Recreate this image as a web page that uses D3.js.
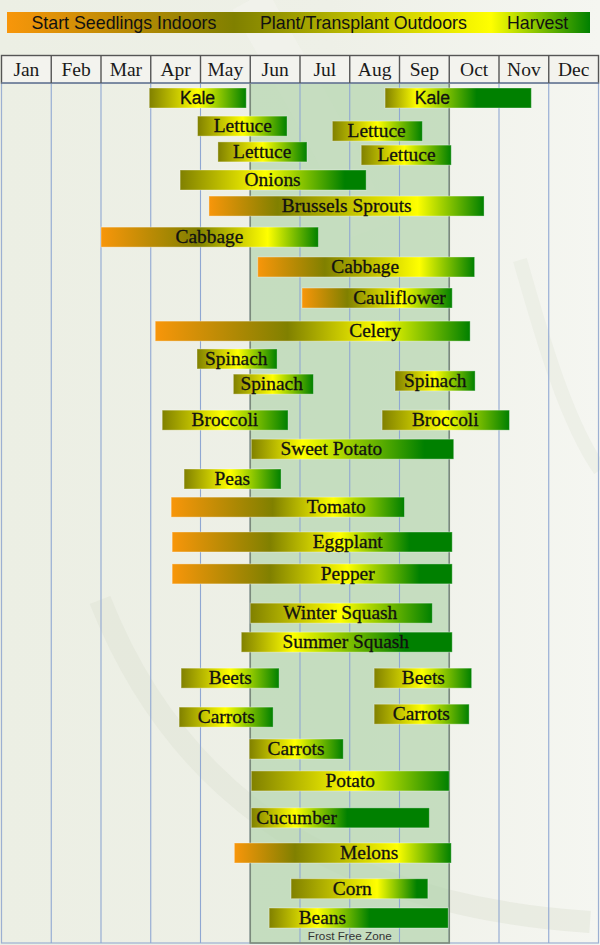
<!DOCTYPE html>
<html>
<head>
<meta charset="utf-8">
<script src="https://cdn.jsdelivr.net/npm/d3@7"></script>
<style>
  html, body { margin: 0; padding: 0; background: #eef0e7; }
  svg { display: block; }
</style>
</head>
<body>
<div id="chart"></div>
<script>

// month labels along the top
var months = ["Jan", "Feb", "Mar", "Apr", "May", "Jun", "Jul", "Aug", "Sep", "Oct", "Nov", "Dec"];

// legend phases
var phases = ["Start Seedlings Indoors", "Plant/Transplant Outdoors", "Harvest"];

// one entry per bar (months counted from 0 = start of Jan)
var crops   = ["Kale", "Kale", "Lettuce", "Lettuce", "Lettuce", "Lettuce", "Onions", "Brussels Sprouts",
               "Cabbage", "Cabbage", "Cauliflower", "Celery", "Spinach", "Spinach", "Spinach",
               "Broccoli", "Broccoli", "Sweet Potato", "Peas", "Tomato", "Eggplant", "Pepper",
               "Winter Squash", "Summer Squash", "Beets", "Beets", "Carrots", "Carrots", "Carrots",
               "Potato", "Cucumber", "Melons", "Corn", "Beans"];
var rows    = [0, 0, 0.96, 1.13, 1.84, 1.95, 2.80, 3.69,
               4.75, 5.77, 6.83, 7.96, 8.91, 9.77, 9.66,
               11.0, 11.0, 11.99, 13.01, 13.97, 15.16, 16.25,
               17.59, 18.58, 19.81, 19.81, 21.14, 21.04, 22.23,
               23.32, 24.58, 25.78, 27.0, 28.0];
var starts  = [2.97, 7.71, 3.94, 6.65, 4.35, 7.23, 3.59, 4.17,
               2.0, 5.15, 6.04, 3.09, 3.93, 4.66, 7.91,
               3.23, 7.65, 5.02, 3.67, 3.41, 3.43, 3.43,
               5.0, 4.82, 3.61, 7.49, 3.57, 7.49, 4.98,
               5.02, 5.02, 4.68, 5.82, 5.38];
var ends    = [4.92, 10.65, 5.74, 8.46, 6.14, 9.04, 7.33, 9.7,
               6.37, 9.51, 9.06, 9.42, 5.54, 6.27, 9.52,
               5.76, 10.21, 9.09, 5.62, 8.1, 9.06, 9.06,
               8.66, 9.06, 5.58, 9.45, 5.46, 9.4, 6.87,
               9.0, 8.6, 9.04, 8.57, 8.98];
// where each colour of the phase gradient peaks (null = no indoor start)
var orangeAt = [null, null, null, null, null, null, null, 4.17,
                2.0, 5.15, 6.04, 3.09, null, null, null,
                null, null, null, null, 3.41, 3.43, 3.43,
                null, null, null, null, null, null, null,
                null, null, 4.68, null, null];
var oliveAt  = [2.97, 7.71, 3.94, 6.65, 4.35, 7.23, 3.59, 5.55,
                3.95, 6.5, 6.95, 5.75, 3.93, 4.66, 7.91,
                3.23, 7.65, 5.02, 3.67, 5.45, 5.4, 5.4,
                5.0, 4.82, 3.61, 7.49, 3.57, 7.49, 4.98,
                5.02, 5.02, 5.9, 5.82, 5.38];
var yellowAt = [3.95, 8.35, 4.85, 7.55, 5.25, 8.1, 5.3, 8.36,
                5.35, 8.4, 8.05, 7.6, 4.75, 5.45, 8.7,
                4.45, 8.9, 6.05, 4.6, 6.67, 6.8, 6.95,
                6.8, 5.85, 4.6, 8.45, 4.5, 8.45, 5.9,
                7.1, 5.9, 7.95, 7.55, 6.35];
var greenAt  = [4.92, 9.55, 5.74, 8.46, 6.14, 9.04, 6.9, 9.7,
                6.37, 9.51, 9.06, 9.42, 5.54, 6.27, 9.52,
                5.76, 10.21, 8.5, 5.62, 8.1, 8.2, 8.4,
                8.66, 8.1, 5.58, 9.45, 5.46, 9.4, 6.87,
                9.0, 6.95, 9.04, 8.35, 7.4];
// month under the centre of each label
var labelAt  = [3.94, 8.66, 4.85, 7.54, 5.24, 8.14, 5.45, 6.94,
                4.18, 7.31, 8.0, 7.51, 4.72, 5.43, 8.72,
                4.49, 8.92, 6.63, 4.64, 6.73, 6.96, 6.96,
                6.81, 6.92, 4.6, 8.48, 4.52, 8.44, 5.92,
                7.01, 5.93, 7.39, 7.05, 6.45];

// frost free window (Jun - Sep)
var frostFree = [5, 9];
var frostLabel = "Frost Free Zone";

var colors = { orange: "#f8960a", olive: "#808000", yellow: "#ffff00", green: "#008000" };

var width = 600, height = 945;

var svg = d3.select("#chart")
            .append("svg")
              .attr("width", width)
              .attr("height", height);

var defs = svg.append("defs");

// x scale over the twelve months
var x = d3.scaleLinear()
          .domain([0, 12])
          .range([1.5, 598.5]);

// y scale over the rows
var y = d3.scaleLinear()
          .domain([0, 28])
          .range([88, 908]);

var barH = 20;
var headTop = 55.5, headBottom = 83, bodyBottom = 943;
var serif = "Liberation Serif, Times New Roman, serif";
var sans = "Liberation Sans, Arial, sans-serif";

// background with faint swooshes
var bg = defs.append("linearGradient").attr("id", "bg")
             .attr("x1", 0).attr("y1", 0).attr("x2", 1).attr("y2", 0);
bg.append("stop").attr("offset", 0).attr("stop-color", "#ecefe4");
bg.append("stop").attr("offset", 0.55).attr("stop-color", "#eef0e7");
bg.append("stop").attr("offset", 1).attr("stop-color", "#f5f6f1");

svg.append("rect")
   .attr("width", width).attr("height", height)
   .attr("fill", "url(#bg)");

var swoosh = svg.append("g").attr("fill", "none");
swoosh.append("path")
   .attr("d", "M100,600 C175,790 330,905 590,922")
   .attr("stroke", "#dfe3d6").attr("stroke-width", 22).attr("opacity", 0.5);
swoosh.append("path")
   .attr("d", "M520,260 C540,330 565,420 600,470")
   .attr("stroke", "#e6e9de").attr("stroke-width", 14).attr("opacity", 0.5);
swoosh.append("path")
   .attr("d", "M250,0 C300,90 340,150 370,230")
   .attr("stroke", "#f3f4ee").attr("stroke-width", 40).attr("opacity", 0.6);

// legend bar
var lg = defs.append("linearGradient").attr("id", "legend-grad");
lg.append("stop").attr("offset", 0).attr("stop-color", colors.orange);
lg.append("stop").attr("offset", 0.39).attr("stop-color", colors.olive);
lg.append("stop").attr("offset", 0.83).attr("stop-color", colors.yellow);
lg.append("stop").attr("offset", 1).attr("stop-color", colors.green);

svg.append("rect")
   .attr("x", 7).attr("y", 12)
   .attr("width", 583).attr("height", 21)
   .attr("fill", "url(#legend-grad)");

var legendX = [31.5, 260, 507];
svg.append("g")
   .selectAll("text")
   .data(phases)
   .enter()
   .append("text")
     .attr("x", function(d, i) { return legendX[i]; })
     .attr("y", 28.5)
     .attr("font-family", sans)
     .attr("font-size", 17.8)
     .attr("fill", "#111")
     .text(function(d) { return d; });

// body of the grid
svg.append("rect")
   .attr("x", x(0)).attr("y", headBottom)
   .attr("width", x(12) - x(0)).attr("height", bodyBottom - headBottom)
   .attr("fill", "none")
   .attr("stroke", "#9cb0d2").attr("stroke-width", 1.2);

// frost free zone
svg.append("rect")
   .attr("x", x(frostFree[0])).attr("y", headBottom)
   .attr("width", x(frostFree[1]) - x(frostFree[0]))
   .attr("height", bodyBottom - headBottom)
   .attr("fill", "#b4d4ae").attr("opacity", 0.7);

// month lines through the body
svg.append("g")
   .selectAll("line")
   .data(d3.range(1, 12))
   .enter()
   .append("line")
     .attr("x1", function(d) { return x(d); })
     .attr("x2", function(d) { return x(d); })
     .attr("y1", headBottom).attr("y2", bodyBottom)
     .attr("stroke", "#8fa7d2").attr("stroke-width", 1.1);

// frost zone edges
svg.append("rect")
   .attr("x", x(frostFree[0])).attr("y", headBottom)
   .attr("width", x(frostFree[1]) - x(frostFree[0]))
   .attr("height", bodyBottom - headBottom)
   .attr("fill", "none")
   .attr("stroke", "#7b8a7b").attr("stroke-width", 1.6);

svg.append("text")
   .attr("x", (x(frostFree[0]) + x(frostFree[1])) / 2)
   .attr("y", 939.5)
   .attr("text-anchor", "middle")
   .attr("font-family", sans)
   .attr("font-size", 11.7)
   .attr("fill", "#333")
   .text(frostLabel);

// header row
svg.append("rect")
   .attr("x", x(0)).attr("y", headTop)
   .attr("width", x(12) - x(0)).attr("height", headBottom - headTop)
   .attr("fill", "#f3f3ee")
   .attr("stroke", "#555").attr("stroke-width", 1.4);

svg.append("line")
   .attr("x1", x(0)).attr("x2", x(12))
   .attr("y1", headBottom).attr("y2", headBottom)
   .attr("stroke", "#7d8fae").attr("stroke-width", 1.6);

svg.append("g")
   .selectAll("line")
   .data(d3.range(1, 12))
   .enter()
   .append("line")
     .attr("x1", function(d) { return x(d); })
     .attr("x2", function(d) { return x(d); })
     .attr("y1", headTop).attr("y2", headBottom)
     .attr("stroke", "#555").attr("stroke-width", 1.4);

svg.append("g")
   .selectAll("text")
   .data(months)
   .enter()
   .append("text")
     .attr("x", function(d, i) { return (x(i) + x(i + 1)) / 2; })
     .attr("y", 75.5)
     .attr("text-anchor", "middle")
     .attr("font-family", serif)
     .attr("font-size", 19.5)
     .attr("fill", "#1a1a1a")
     .text(function(d) { return d; });

// one gradient per bar, built from the phase points
crops.forEach(function(c, i) {
  var span = ends[i] - starts[i];
  var g = defs.append("linearGradient").attr("id", "bar" + i);
  var stops = [];
  if (orangeAt[i] !== null) stops.push([orangeAt[i], colors.orange]);
  stops.push([oliveAt[i], colors.olive]);
  stops.push([yellowAt[i], colors.yellow]);
  stops.push([greenAt[i], colors.green]);
  stops.forEach(function(s) {
    g.append("stop")
     .attr("offset", Math.max(0, Math.min(1, (s[0] - starts[i]) / span)))
     .attr("stop-color", s[1]);
  });
});

var bars = svg.append("g")
              .selectAll("g")
              .data(crops)
              .enter()
              .append("g");

bars.append("rect")
    .attr("x", function(d, i) { return x(starts[i]); })
    .attr("y", function(d, i) { return y(rows[i]); })
    .attr("width", function(d, i) { return x(ends[i]) - x(starts[i]); })
    .attr("height", barH)
    .attr("fill", function(d, i) { return "url(#bar" + i + ")"; })
    .attr("stroke", "rgba(255,255,255,0.35)")
    .attr("stroke-width", 1);

// labels, the two kale bars are set in a sans face
bars.append("text")
    .attr("x", function(d, i) { return x(labelAt[i]); })
    .attr("y", function(d, i) { return y(rows[i]) + (d == "Kale" ? 16 : 16); })
    .attr("text-anchor", "middle")
    .attr("font-family", function(d) { return d == "Kale" ? sans : serif; })
    .attr("font-size", function(d) { return d == "Kale" ? 17.6 : 19.4; })
    .attr("fill", "#111")
    .attr("stroke", "#111")
    .attr("stroke-width", 0.3)
    .text(function(d) { return d; });

</script>
</body>
</html>
